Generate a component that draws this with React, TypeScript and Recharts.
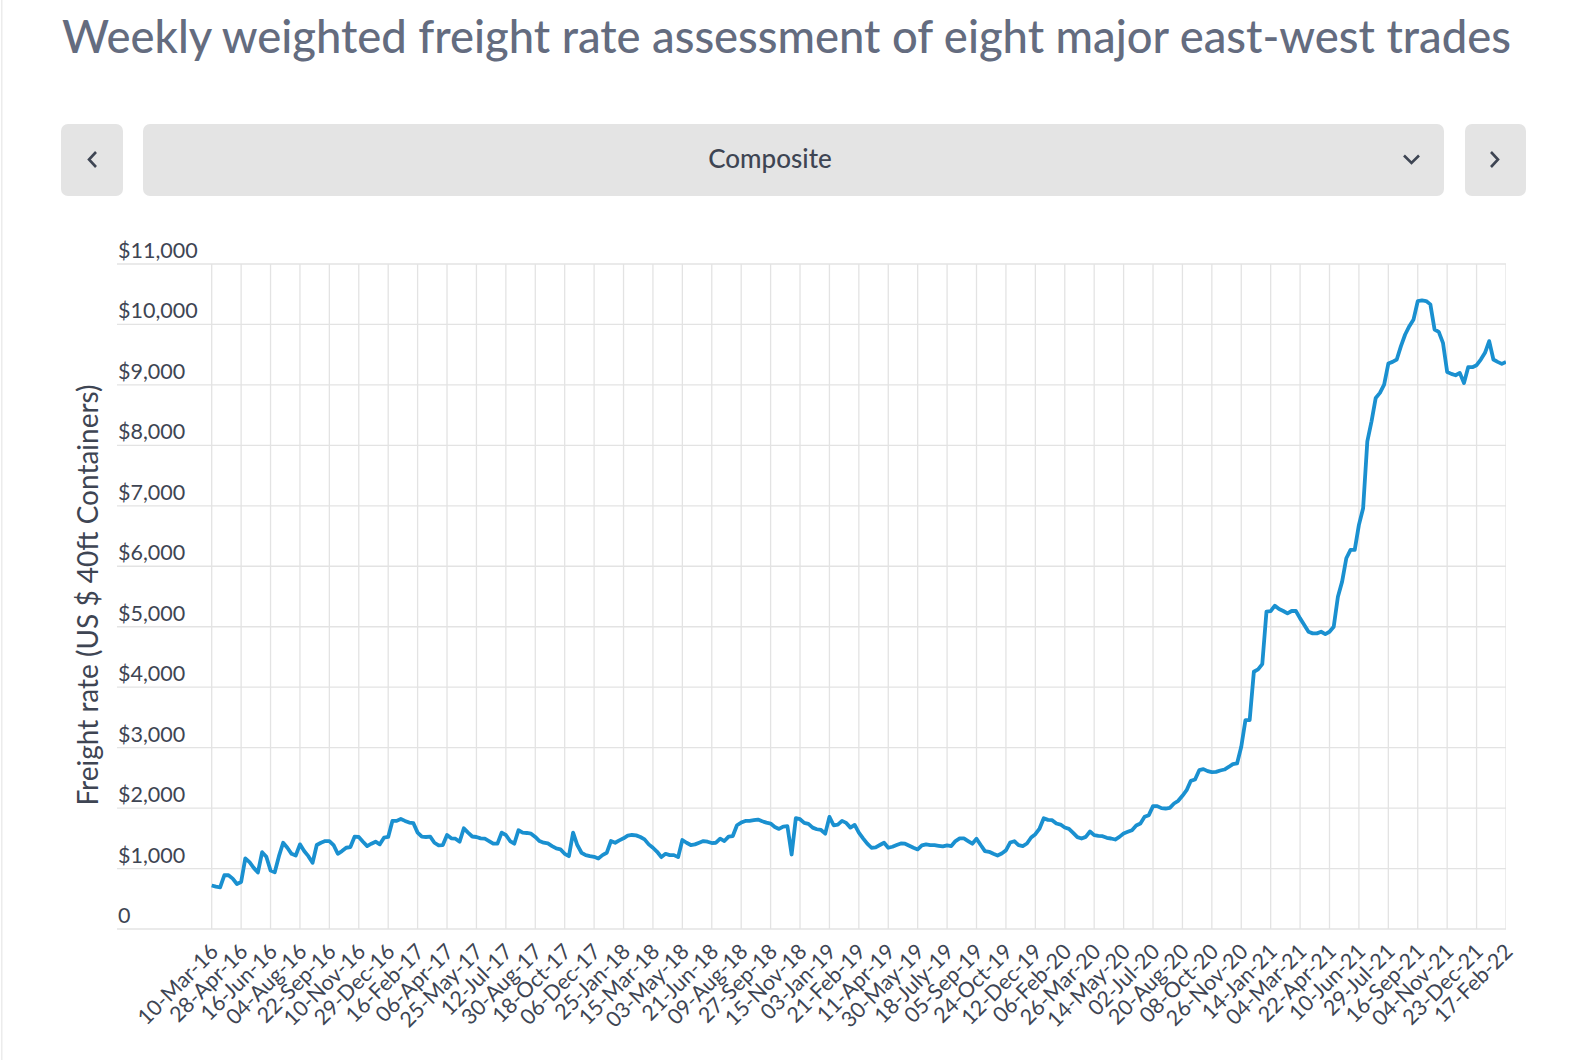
import React from "react";
import { LineChart, Line, XAxis, YAxis, CartesianGrid, ReferenceLine } from "recharts";

// Week-ending labels shown on the category axis (one every seventh week)
const tickLabels = [
  "10-Mar-16", "28-Apr-16", "16-Jun-16", "04-Aug-16", "22-Sep-16", "10-Nov-16", "29-Dec-16",
  "16-Feb-17", "06-Apr-17", "25-May-17", "12-Jul-17", "30-Aug-17", "18-Oct-17", "06-Dec-17",
  "25-Jan-18", "15-Mar-18", "03-May-18", "21-Jun-18", "09-Aug-18", "27-Sep-18", "15-Nov-18",
  "03-Jan-19", "21-Feb-19", "11-Apr-19", "30-May-19", "18-July-19", "05-Sep-19", "24-Oct-19", "12-Dec-19",
  "06-Feb-20", "26-Mar-20", "14-May-20", "02-Jul-20", "20-Aug-20", "08-Oct-20", "26-Nov-20",
  "14-Jan-21", "04-Mar-21", "22-Apr-21", "10-Jun-21", "29-Jul-21", "16-Sep-21", "04-Nov-21", "23-Dec-21",
  "17-Feb-22",
];

// Composite rate, US$ per 40ft container, one value per week
const rates2016 = [
  720, 700, 690, 889, 889, 833, 745, 778, 1167, 1105, 1011, 935, 1270, 1194, 967, 939,
  1205, 1427, 1344, 1244, 1216, 1400, 1289, 1205, 1094, 1389, 1427, 1455, 1455, 1389,
  1244, 1289, 1344, 1355, 1527, 1522, 1444, 1372, 1411, 1444, 1400, 1511, 1522,
];
const rates2017 = [
  1788, 1788, 1821, 1788, 1760, 1750, 1594, 1527, 1522, 1527, 1427, 1383, 1389, 1555,
  1500, 1494, 1444, 1666, 1594, 1530, 1522, 1500, 1494, 1455, 1411, 1411, 1594, 1555,
  1455, 1411, 1633, 1594, 1588, 1577, 1522, 1455, 1427, 1416, 1372, 1333, 1316, 1244,
  1205, 1594, 1389, 1261, 1222, 1205, 1194, 1166, 1222, 1261,
];
const rates2018 = [
  1455, 1427, 1466, 1500, 1544, 1555, 1549, 1522, 1483, 1400, 1344, 1277, 1189, 1244,
  1222, 1222, 1189, 1472, 1427, 1389, 1400, 1427, 1455, 1444, 1422, 1427, 1494, 1455,
  1527, 1538, 1716, 1760, 1788, 1788, 1799, 1810, 1783, 1760, 1744, 1688, 1655, 1694,
  1700, 1233, 1833, 1816, 1755, 1738, 1677, 1650, 1638, 1577,
];
const rates2019 = [
  1855, 1716, 1727, 1788, 1755, 1677, 1722, 1594, 1500, 1411, 1344, 1350, 1389, 1427,
  1344, 1361, 1389, 1416, 1411, 1377, 1344, 1316, 1383, 1400, 1389, 1389, 1377, 1366,
  1383, 1372, 1455, 1500, 1500, 1455, 1411, 1494, 1389, 1289, 1277, 1244, 1216, 1250,
  1300, 1430, 1452, 1386, 1370, 1414, 1513, 1568, 1662, 1833,
];
const rates2020 = [
  1805, 1800, 1745, 1728, 1679, 1657, 1590, 1519, 1497, 1524, 1612, 1552, 1541, 1535,
  1508, 1497, 1480, 1524, 1579, 1607, 1634, 1712, 1745, 1855, 1883, 2032, 2032, 1999,
  1993, 2004, 2076, 2120, 2203, 2296, 2451, 2473, 2627, 2644, 2611, 2594, 2600, 2622,
  2638, 2680, 2727, 2738, 3014, 3455, 3455, 4255, 4294, 4382,
];
const rates2021 = [
  5249, 5259, 5348, 5293, 5260, 5221, 5260, 5260, 5138, 5028, 4917, 4890, 4890, 4917,
  4878, 4917, 5000, 5497, 5746, 6133, 6271, 6271, 6685, 6961, 8066, 8398, 8785, 8868,
  9006, 9354, 9381, 9420, 9641, 9834, 9972, 10083, 10387, 10398, 10387, 10332, 9917, 9878,
  9696, 9215, 9182, 9160, 9199, 9033, 9293, 9293, 9326, 9420,
];
const rates2022 = [9531, 9724, 9420, 9381, 9348, 9381];

const yTicks = [0, 1000, 2000, 3000, 4000, 5000, 6000, 7000, 8000, 9000, 10000, 11000];

const series = [
  ...rates2016, ...rates2017, ...rates2018, ...rates2019, ...rates2020, ...rates2021, ...rates2022,
].map((rate, week) => ({ week, rate }));

const WEEKS_PER_TICK = 7;
const xTicks = tickLabels.map((_, k) => k * WEEKS_PER_TICK);

// layout
const W = 1582;
const H = 1060;
const PLOT_LEFT = 117;
const PLOT_RIGHT = 1506;
const PLOT_TOP = 264;
const PLOT_BOTTOM = 929;
const FIRST_TICK_X = 211.7;
const Y_AXIS_WIDTH = 100;
const lastWeek = series.length - 1;
const weekPx = (PLOT_RIGHT - FIRST_TICK_X) / lastWeek;
const xMin = -(FIRST_TICK_X - PLOT_LEFT) / weekPx;

const FONT = "Lato, 'Open Sans', sans-serif";
const TEXT = "#3e4553";
const TITLE = "#646c7f";
const GRID = "#e3e3e3";
const LINE = "#1a90d0";
const BUTTON = "#e4e4e4";

function XTick(props: any) {
  const { x, y, payload } = props;
  const label = tickLabels[Math.round(payload.value / WEEKS_PER_TICK)];
  return (
    <text
      transform={`translate(${x + 8},${y + 24}) rotate(-45)`}
      textAnchor="end"
      fontSize={21.5}
      fontFamily={FONT}
      fill={TEXT}
    >
      {label}
    </text>
  );
}

function YTick(props: any) {
  const { y, payload } = props;
  const v = payload.value as number;
  const label = v === 0 ? "0" : "$" + v.toLocaleString("en-US");
  return (
    <text x={PLOT_LEFT + 1} y={y - 6} textAnchor="start" fontSize={21.5} fontFamily={FONT} fill={TEXT}>
      {label}
    </text>
  );
}

export default function App() {
  return (
    <div style={{ position: "relative", width: W, height: H, background: "#fff", overflow: "hidden" }}>
      <style>{"body{margin:0;}"}</style>
      <div style={{ position: "absolute", left: 0, top: 0 }}>
        <LineChart
          width={W}
          height={H}
          data={series}
          margin={{ top: PLOT_TOP, right: W - PLOT_RIGHT, bottom: 0, left: PLOT_LEFT - Y_AXIS_WIDTH }}
        >
          <CartesianGrid stroke={GRID} strokeWidth={1.3} vertical={false} />
          <XAxis
            dataKey="week"
            type="number"
            domain={[xMin, lastWeek]}
            ticks={xTicks}
            interval={0}
            allowDataOverflow
            height={H - PLOT_BOTTOM}
            axisLine={false}
            tickLine={false}
            tickSize={0}
            tickMargin={0}
            tick={<XTick />}
          />
          <YAxis
            type="number"
            domain={[0, 11000]}
            ticks={yTicks}
            interval={0}
            width={Y_AXIS_WIDTH}
            axisLine={false}
            tickLine={false}
            tick={<YTick />}
          />
          {xTicks.map((t) => (
            <ReferenceLine key={t} x={t} stroke={GRID} strokeWidth={1.3} ifOverflow="hidden" />
          ))}
          <Line
            type="linear"
            dataKey="rate"
            stroke={LINE}
            strokeWidth={3.8}
            strokeLinejoin="round"
            dot={false}
            activeDot={false}
            isAnimationActive={false}
          />
        </LineChart>
      </div>
      <svg
        width={W}
        height={H}
        style={{ position: "absolute", left: 0, top: 0, pointerEvents: "none" }}
      >
        <rect x={1} y={0} width={1.5} height={H} fill="#ececec" />
        <text
          x={62}
          y={53}
          fontSize={47}
          fontWeight={500}
          fontFamily={FONT}
          fill={TITLE}
          textLength={1449}
          lengthAdjust="spacingAndGlyphs"
        >
          Weekly weighted freight rate assessment of eight major east-west trades
        </text>
        <rect x={61} y={124} width={62} height={72} rx={7} fill={BUTTON} />
        <rect x={143} y={124} width={1301} height={72} rx={7} fill={BUTTON} />
        <rect x={1465} y={124} width={61} height={72} rx={7} fill={BUTTON} />
        <polyline points="96,152 89,159.5 96,167" fill="none" stroke={TEXT} strokeWidth={2.6} />
        <polyline points="1491,152 1498,159.5 1491,167" fill="none" stroke={TEXT} strokeWidth={2.6} />
        <polyline points="1404,155.5 1411.5,163 1419,155.5" fill="none" stroke={TEXT} strokeWidth={2.6} />
        <text x={770} y={168} textAnchor="middle" fontSize={26} fontWeight={500} fontFamily={FONT} fill={TEXT}>
          Composite
        </text>
        <text
          transform="translate(98,595) rotate(-90)"
          textAnchor="middle"
          fontSize={28}
          fontFamily={FONT}
          fill={TEXT}
        >
          Freight rate (US $ 40ft Containers)
        </text>
      </svg>
    </div>
  );
}
